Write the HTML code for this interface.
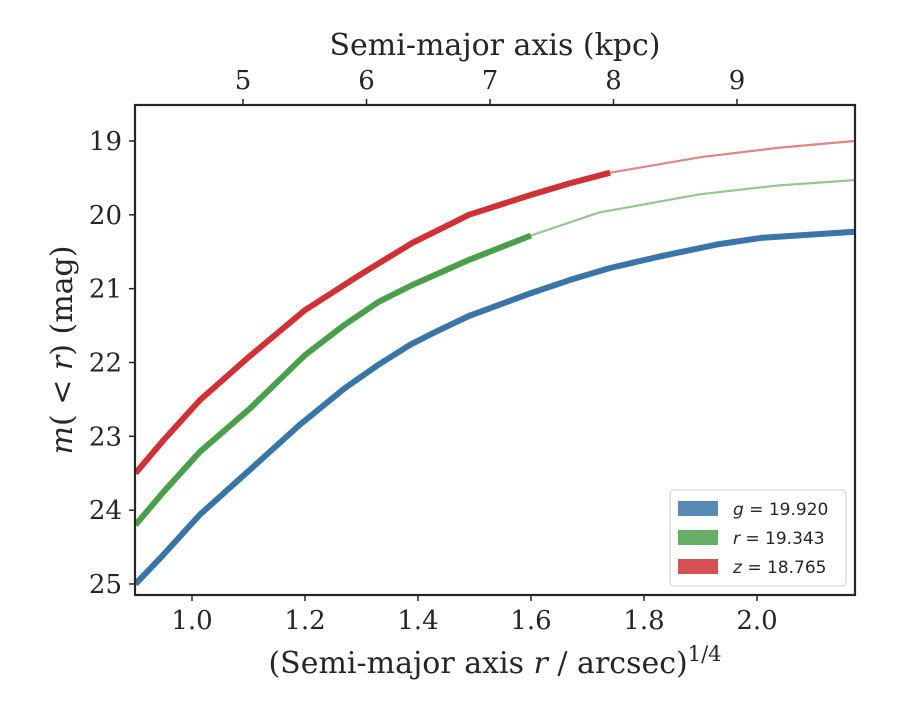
<!DOCTYPE html>
<html><head><meta charset="utf-8"><style>
body{margin:0;background:#fff;font-family:"DejaVu Serif","Liberation Serif",serif;}
svg text{fill:#262626}
</style></head><body>
<svg id="chart" width="900" height="700" xmlns="http://www.w3.org/2000/svg">
<g id="plot"></g>
</svg>
<script>
const gX=[0.9,0.95,1.014,1.103,1.19,1.27,1.33,1.386,1.43,1.49,1.6,1.67,1.74,1.83,1.93,2.01,2.173];
const gMag=[25.0,24.6,24.06,23.45,22.85,22.35,22.03,21.76,21.59,21.37,21.06,20.88,20.72,20.56,20.4,20.31,20.23];
const gThickEnd=2.173;
const rX=[0.9,0.95,1.014,1.103,1.2,1.27,1.33,1.39,1.49,1.6,1.72,1.9,2.04,2.173];
const rMag=[24.2,23.75,23.21,22.62,21.9,21.49,21.18,20.95,20.61,20.28,19.97,19.72,19.6,19.53];
const rThickEnd=1.6;
const zX=[0.9,0.95,1.014,1.103,1.2,1.3,1.39,1.49,1.6,1.67,1.74,1.9,2.04,2.173];
const zMag=[23.5,23.05,22.51,21.91,21.29,20.8,20.38,20.0,19.73,19.57,19.43,19.22,19.09,19.0];
const zThickEnd=1.74;
const xTicks=[1.0,1.2,1.4,1.6,1.8,2.0];
const yTicks=[19,20,21,22,23,24,25];
const topTicks=[5,6,7,8,9];
const legendLabels=["g = 19.920","r = 19.343","z = 18.765"];
const colors=["#3a75a8","#4c9f4a","#cf3236"];

const L=135,R=855,T=105,B=595;
const sx=v=>192+(v-1.0)*565;
const sy=m=>141+(m-19)*73.83;
const st=k=>243+(k-5)*123.5;
const NS="http://www.w3.org/2000/svg";
const g=document.getElementById('plot');
function mk(tag,attrs,parent){const e=document.createElementNS(NS,tag);for(const k in attrs)e.setAttribute(k,attrs[k]);(parent||g).appendChild(e);return e;}

const defs=mk('defs',{});const cp=mk('clipPath',{id:'clip'},defs);mk('rect',{x:L,y:T,width:R-L,height:B-T},cp);

function drawSeries(xs,ms,end,color,name){
  const thick=[],thin=[];
  xs.forEach((x,i)=>{const p=sx(x).toFixed(1)+','+sy(ms[i]).toFixed(1);if(x<=end)thick.push(p);if(x>=end)thin.push(p);});
  if(thin.length>1){const t=mk('polyline',{points:thin.join(' '),fill:'none',stroke:color,'stroke-width':2.2,opacity:0.6,'clip-path':'url(#clip)'});
    
    }
  const l=mk('polyline',{points:thick.join(' '),fill:'none',stroke:color,'stroke-width':6,'stroke-linejoin':'round','clip-path':'url(#clip)'});
  
  
}
drawSeries(gX,gMag,gThickEnd,colors[0],'g-band');
drawSeries(rX,rMag,rThickEnd,colors[1],'r-band');
drawSeries(zX,zMag,zThickEnd,colors[2],'z-band');

const frame=mk('rect',{x:L,y:T,width:R-L,height:B-T,fill:'none',stroke:'#262626','stroke-width':2.2});



xTicks.forEach(v=>{const x=sx(v);mk('line',{x1:x,x2:x,y1:B,y2:B+6,stroke:'#262626','stroke-width':1.5});
  const t=mk('text',{x:x,y:B+34,'text-anchor':'middle','font-size':26});t.textContent=v.toFixed(1);
  
  });
yTicks.forEach(v=>{const y=sy(v);mk('line',{x1:L-6,x2:L,y1:y,y2:y,stroke:'#262626','stroke-width':1.5});
  const t=mk('text',{x:L-13,y:y+9,'text-anchor':'end','font-size':26});t.textContent=v;
  
  });
topTicks.forEach(v=>{const x=st(v);mk('line',{x1:x,x2:x,y1:T-6,y2:T,stroke:'#262626','stroke-width':1.5});
  const t=mk('text',{x:x,y:T-16,'text-anchor':'middle','font-size':26});t.textContent=v;
  
  });

const lg=mk('g',{});


mk('rect',{x:670,y:490,width:176,height:96,rx:4,fill:'#fff',stroke:'#ccc','stroke-width':1},lg);
legendLabels.forEach((s,i)=>{const y=509+i*29;
  const sw=mk('rect',{x:678,y:y-8,width:40,height:15,fill:colors[i],opacity:0.85},lg);
  
  
  const parts=s.split(' = ');
  const t=mk('text',{x:733,y:y+6,'font-size':17,'font-family':'DejaVu Sans, sans-serif'},lg);
  t.innerHTML='<tspan font-style="italic">'+parts[0]+'</tspan> = '+parts[1];
  
  });
</script>
<svg style="position:absolute;left:0;top:0" width="900" height="700" xmlns="http://www.w3.org/2000/svg">
<text x="495" y="673" text-anchor="middle" font-size="30" fill="#262626" font-family="DejaVu Serif, serif">(Semi-major axis <tspan font-style="italic">r</tspan> / arcsec)<tspan dy="-12" font-size="21">1/4</tspan></text>
<text x="495" y="55" text-anchor="middle" font-size="30" fill="#262626" font-family="DejaVu Serif, serif">Semi-major axis (kpc)</text>
<text transform="translate(72,350) rotate(-90)" text-anchor="middle" font-size="30" fill="#262626" font-family="DejaVu Serif, serif"><tspan font-style="italic">m</tspan>( &lt; <tspan font-style="italic">r</tspan>) (mag)</text>
</svg>
</body></html>
